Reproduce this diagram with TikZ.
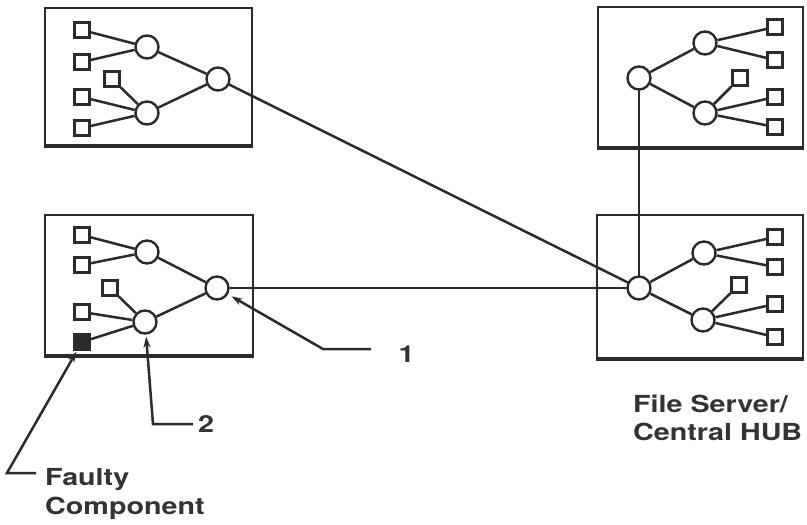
\documentclass[tikz,border=0pt]{standalone}
\usepackage{fontspec}
\newfontfamily\lblfont{TeX Gyre Heros}[FakeStretch=1.22]
\usetikzlibrary{arrows.meta}
\definecolor{ink}{HTML}{2B2B2B}
\definecolor{txt}{HTML}{333333}
\tikzset{
  box/.style={draw=ink, line width=2.8pt, inner sep=0pt},
  sq/.style={draw=ink, line width=2.4pt, minimum size=15pt, inner sep=0pt, fill=white},
  bad/.style={sq, fill=ink},
  ci/.style={circle, draw=ink, line width=2.4pt, minimum size=23pt, inner sep=0pt, fill=white},
  ln/.style={draw=ink, line width=2.5pt},
  callout/.style={draw=ink, line width=2.5pt, -{Stealth[length=11pt,width=7pt]}},
  lbl/.style={font=\lblfont\bfseries\fontsize{23.5}{28}\selectfont, text=txt, inner sep=0pt}
}
\begin{document}
\begin{tikzpicture}[x=1pt,y=-1pt]
\useasboundingbox (0,0) rectangle (807,525);
% boxes
\node[box, minimum width=207pt, minimum height=137pt] (TL) at (148.5,76.5) {};
\node[box, minimum width=208pt, minimum height=140pt] (BL) at (149,285) {};
\node[box, minimum width=205pt, minimum height=140pt] (TR) at (700.5,77) {};
\node[box, minimum width=206pt, minimum height=143pt] (BR) at (700,286.5) {};
\foreach \b in {TL,BL,TR,BR}{
  \draw[ink, line width=4pt] (\b.south west) -- (\b.south east);
}
% main links (drawn first, under the nodes)
\path (218,79) coordinate (pA3) (217,288) coordinate (pB3) (639,78) coordinate (pC1) (639,288) coordinate (pD1);
\draw[ln] (pA3) -- (pD1);
\draw[ln] (pB3) -- (pD1);
\draw[ln] (pC1) -- (pD1);
% top-left station
\node[sq] (a1) at (82,30) {};
\node[sq] (a2) at (82,62) {};
\node[sq] (a3) at (112,79) {};
\node[sq] (a4) at (82,97) {};
\node[sq] (a5) at (82,128) {};
\node[ci] (A1) at (147,47) {};
\node[ci] (A2) at (147,113) {};
\node[ci] (A3) at (pA3) {};
\draw[ln] (a1) -- (A1); \draw[ln] (a2) -- (A1);
\draw[ln] (a3) -- (A2); \draw[ln] (a4) -- (A2); \draw[ln] (a5) -- (A2);
\draw[ln] (A1) -- (A3); \draw[ln] (A2) -- (A3);
% bottom-left station
\node[sq] (b1) at (82,235) {};
\node[sq] (b2) at (82,265) {};
\node[sq] (b3) at (110,288) {};
\node[sq] (b4) at (82,312) {};
\node[bad] (b5) at (82,342) {};
\node[ci] (B1) at (147,252) {};
\node[ci] (B2) at (145,322) {};
\node[ci] (B3) at (pB3) {};
\draw[ln] (b1) -- (B1); \draw[ln] (b2) -- (B1);
\draw[ln] (b3) -- (B2); \draw[ln] (b4) -- (B2); \draw[ln] (b5) -- (B2);
\draw[ln] (B1) -- (B3); \draw[ln] (B2) -- (B3);
% top-right station
\node[sq] (c1) at (775,27) {};
\node[sq] (c2) at (775,60) {};
\node[sq] (c3) at (740,78) {};
\node[sq] (c4) at (775,97) {};
\node[sq] (c5) at (775,127) {};
\node[ci] (C1) at (pC1) {};
\node[ci] (C2) at (705,43) {};
\node[ci] (C3) at (705,113) {};
\draw[ln] (c1) -- (C2); \draw[ln] (c2) -- (C2);
\draw[ln] (c3) -- (C3); \draw[ln] (c4) -- (C3); \draw[ln] (c5) -- (C3);
\draw[ln] (C1) -- (C2); \draw[ln] (C1) -- (C3);
% bottom-right station (hub)
\node[sq] (d1) at (775,237) {};
\node[sq] (d2) at (775,267) {};
\node[sq] (d3) at (739,285) {};
\node[sq] (d4) at (775,304) {};
\node[sq] (d5) at (775,337) {};
\node[ci] (D1) at (pD1) {};
\node[ci] (D2) at (704,253) {};
\node[ci] (D3) at (703,320) {};
\draw[ln] (d1) -- (D2); \draw[ln] (d2) -- (D2);
\draw[ln] (d3) -- (D3); \draw[ln] (d4) -- (D3); \draw[ln] (d5) -- (D3);
\draw[ln] (D1) -- (D2); \draw[ln] (D1) -- (D3);
% callouts
\coordinate (k1a) at (371,349);
\coordinate (k1b) at (323,349);
\draw[callout, shorten >=4pt] (k1a) -- (k1b) -- (B3);
\node[lbl, anchor=base] (t1) at (406.5,362) {1};
\coordinate (k2a) at (193,424);
\coordinate (k2b) at (153,424);
\draw[callout, shorten >=2pt] (k2a) -- (k2b) -- (B2);
\node[lbl, anchor=base] (t2) at (206,432) {2};
\coordinate (k3a) at (36,473);
\coordinate (k3b) at (7,473);
\draw[callout, shorten >=1pt] (k3a) -- (k3b) -- (b5);
\node[lbl, anchor=base west] (t3) at (45,485) {Faulty};
\node[lbl, anchor=base west] (t4) at (45,514) {Component};
\node[lbl, anchor=base west] (t5) at (633,412) {File Server/};
\node[lbl, anchor=base west] (t6) at (633,440) {Central HUB};
\end{tikzpicture}
\end{document}
